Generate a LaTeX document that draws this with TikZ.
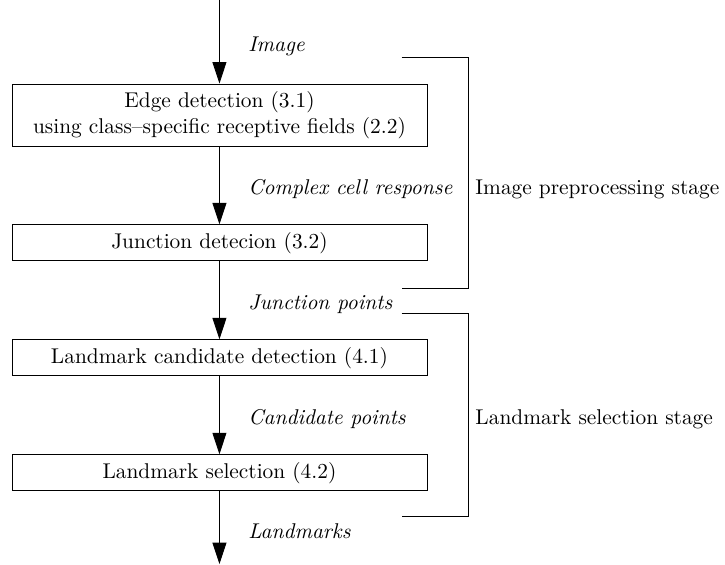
\documentclass[tikz,border=0pt]{standalone}
\usepackage{amsmath}
\usepackage{tikz}
\usetikzlibrary{positioning}
\usetikzlibrary{calc}
\usetikzlibrary{arrows.meta}
\tikzset{
    stage/.style={
           rectangle,
           draw=black, thin,
           minimum width=194.2pt,
           minimum height=16.9pt,
           inner sep=2pt,
           text centered,
           align=center,
           },
    flow/.style={
              inner sep=3.33pt,
              font=\itshape
              },
    bracket/.style={
              draw=black, thin
              },
}

\begin{document}
\begin{tikzpicture}[>={Triangle[length=10pt,width=6.5pt]}, node distance=36.5pt, auto]
  \useasboundingbox (0,0) rectangle (339.3pt,-264pt);
  \tikzstyle{side} = [anchor=west, inner sep=3.33pt]
     \node[stage, minimum height=29pt] (a) at (102.7pt,-53.8pt) {Edge detection (3.1)\\using class--specific receptive fields (2.2)};
     \node[stage] (b) [below=of a] {Junction detecion (3.2)};
     \node[stage] (c) [below=of b] {Landmark candidate detection (4.1)};
     \node[stage] (d) [below=of c] {Landmark selection (4.2)};
     \coordinate (src) at (a |- 0,0);
     \coordinate (snk) at (d |- 0,-264pt);
     \path[->]
      (src) edge node[flow, right=10pt, pos=0.55] (la) {Image} (a)
      (a)   edge node[flow, right=10pt, pos=0.55] (lb) {Complex cell response} (b)
      (b)   edge node[flow, right=10pt, pos=0.55] (lc) {Junction points} (c)
      (c)   edge node[flow, right=10pt, pos=0.55] (ld) {Candidate points} (d)
      (d)   edge node[flow, right=10pt, pos=0.55] (le) {Landmarks} (snk)
      ;
     % stage brackets
     \coordinate (p1) at ($(a.north east)+(19pt,12pt)$);
     \coordinate (p2) at ($(c.north east)+(19pt,12pt)$);
     \draw[bracket] ($(a.north east)+(-12pt,12pt)$) -- (p1) |- ($(b.south east)+(-12pt,-12.6pt)$);
     \draw[bracket] ($(c.north east)+(-12pt,12pt)$) -- (p2) |- ($(d.south east)+(-12pt,-12pt)$);
     \node[side] (pre) at (lb -| p1) {Image preprocessing stage};
     \node[side] (sel) at (ld -| p2) {Landmark selection stage};
  \end{tikzpicture}
\end{document}
